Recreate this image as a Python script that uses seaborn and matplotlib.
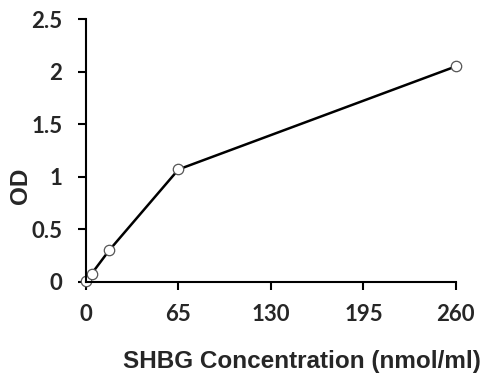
import matplotlib
matplotlib.use("Agg")
import matplotlib.pyplot as plt
import seaborn as sns
import pandas as pd

# Standard curve data
concentration = [0, 4.06, 16.25, 65, 260]
od = [0.01, 0.08, 0.30, 1.07, 2.05]
x_ticks = [0, 65, 130, 195, 260]
y_ticks = [0, 0.5, 1, 1.5, 2, 2.5]
y_tick_labels = ["0", "0.5", "1", "1.5", "2", "2.5"]

df = pd.DataFrame({"conc": concentration, "od": od})

sns.set_style("white")
plt.rcParams['font.family'] = ['Lato', 'DejaVu Sans']

fig = plt.figure(figsize=(4.86, 3.81), dpi=100)
ax = fig.add_axes([0.177, 0.26, 0.761, 0.69])

sns.lineplot(data=df, x="conc", y="od", ax=ax, color="black", linewidth=1.8,
             marker="o", markersize=7.5, markerfacecolor="white",
             markeredgecolor="#555555", markeredgewidth=0.9, clip_on=False)

ax.set_xlim(0, 260)
ax.set_ylim(0, 2.5)
ax.set_xticks(x_ticks)
ax.set_yticks(y_ticks)
ax.set_yticklabels(y_tick_labels)
ax.tick_params(axis="both", direction="out", length=6, width=1.5, color="black",
               labelsize=16, bottom=True, left=True)
ax.tick_params(axis="y", pad=11)
ax.tick_params(axis="x", pad=10)
for lab in ax.get_xticklabels() + ax.get_yticklabels():
    lab.set_fontweight("bold")

sns.despine(ax=ax)
for s in ["left", "bottom"]:
    ax.spines[s].set_linewidth(1.5)
    ax.spines[s].set_color("black")

ax.set_xlabel("SHBG Concentration (nmol/ml)", fontsize=17.5, fontweight="bold",
              family="Liberation Sans", va="center")
ax.set_ylabel("OD", fontsize=17.5, fontweight="bold", family="Liberation Sans", va="center")
ax.xaxis.set_label_coords(0.584, -0.304)
ax.yaxis.set_label_coords(-0.178, 0.365)

plt.savefig("out.png", dpi=100)
